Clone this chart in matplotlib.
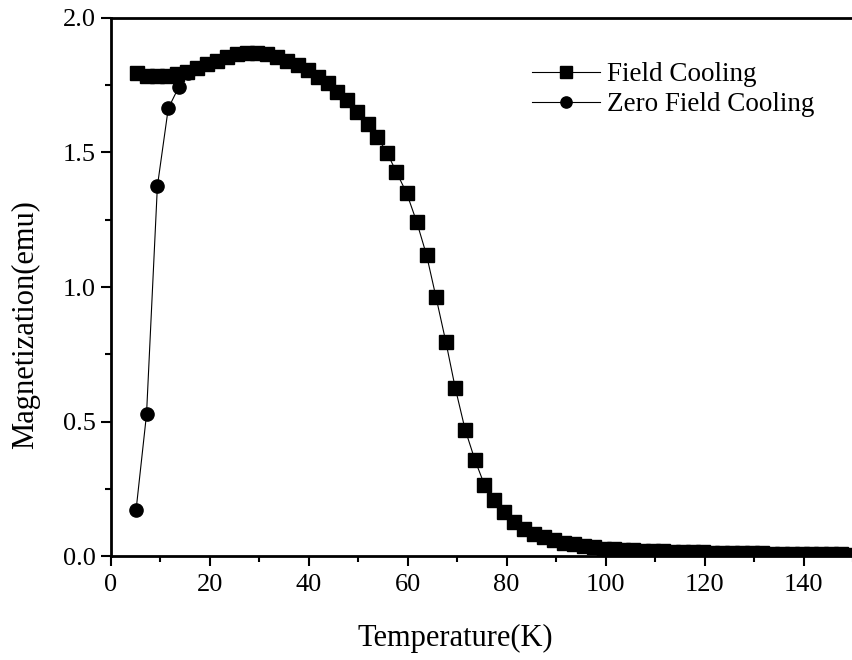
import numpy as np
import matplotlib
matplotlib.use("Agg")
import matplotlib.pyplot as plt
from matplotlib.ticker import MultipleLocator

plt.rcParams['font.family'] = ['Liberation Serif', 'DejaVu Serif']

# Field cooling (squares)
fc_temp = [5.2, 7.2, 9.3, 11.3, 13.4, 15.4, 17.4, 19.5, 21.5, 23.5, 25.5, 27.5,
           29.5, 31.5, 33.5, 35.5, 37.9, 39.9, 41.9, 43.9, 45.7, 47.7, 49.8, 52.0,
           53.8, 55.8, 57.7, 59.8, 61.8, 63.8, 65.7, 67.7, 69.6, 71.6, 73.6, 75.5,
           77.5, 79.5, 81.5, 83.5, 85.5, 87.5, 89.5, 91.5, 93.6, 95.6, 97.6, 99.6,
           101.6, 103.6, 105.6, 107.6, 109.6, 111.6, 113.6, 115.6, 117.6, 119.6,
           121.6, 123.6, 125.6, 127.6, 129.6, 131.6, 133.6, 135.6, 137.6, 139.6,
           141.6, 143.6, 145.6, 147.6, 149.6]
fc_mag = [1.795, 1.785, 1.785, 1.785, 1.790, 1.800, 1.815, 1.830, 1.840, 1.855,
          1.865, 1.870, 1.870, 1.865, 1.855, 1.840, 1.825, 1.805, 1.780, 1.757,
          1.726, 1.695, 1.652, 1.606, 1.559, 1.499, 1.428, 1.348, 1.243, 1.119,
          0.964, 0.797, 0.626, 0.471, 0.357, 0.266, 0.208, 0.165, 0.128, 0.103,
          0.084, 0.072, 0.060, 0.051, 0.045, 0.038, 0.033, 0.028, 0.026, 0.024,
          0.022, 0.021, 0.020, 0.019, 0.018, 0.017, 0.016, 0.015, 0.014, 0.013,
          0.013, 0.012, 0.011, 0.011, 0.010, 0.010, 0.009, 0.009, 0.008, 0.008,
          0.007, 0.007, 0.006]

# Zero field cooling (circles)
zfc_temp = [5.1, 7.2, 9.4, 11.6, 13.7, 15.6]
zfc_mag = [0.174, 0.527, 1.375, 1.664, 1.742, 1.795]

fig = plt.figure(figsize=(8.53, 6.6), dpi=100)
ax = fig.add_axes([0.130, 0.157, 0.870, 0.816])

ax.plot(zfc_temp, zfc_mag, color='black', lw=0.8, marker='o', ms=9.5,
        label='Zero Field Cooling', zorder=2)
ax.plot(fc_temp, fc_mag, color='black', lw=0.8, marker='s', ms=9.5,
        label='Field Cooling', zorder=3)

ax.set_xlim(0, 150)
ax.set_ylim(0, 2.0)
ax.xaxis.set_major_locator(MultipleLocator(20))
ax.xaxis.set_minor_locator(MultipleLocator(10))
ax.yaxis.set_major_locator(MultipleLocator(0.5))
ax.yaxis.set_minor_locator(MultipleLocator(0.25))
ax.yaxis.set_major_formatter(plt.FormatStrFormatter('%.1f'))

for s in ['left', 'bottom', 'top']:
    ax.spines[s].set_linewidth(2)
ax.spines['right'].set_visible(False)
ax.tick_params(which='major', direction='out', length=7, width=1.5,
               labelsize=19, top=False, right=False)
ax.tick_params(axis='x', which='major', pad=6)
ax.tick_params(axis='y', which='major', pad=4)
ax.tick_params(which='minor', direction='out', length=4, width=1.5,
               top=False, right=False)

ax.set_xlabel('Temperature(K)', fontsize=22)
ax.set_ylabel('Magnetization(emu)', fontsize=22)
ax.xaxis.set_label_coords(0.464, -0.125)
ax.yaxis.set_label_coords(-0.096, 0.43)

handles, labels = ax.get_legend_handles_labels()
leg = ax.legend(handles[::-1], labels[::-1], loc='upper left',
                bbox_to_anchor=(0.553, 0.938), frameon=False, fontsize=19.5,
                handlelength=2.5, handletextpad=0.26, labelspacing=0.2,
                markerscale=0.85, borderaxespad=0)

fig.savefig('out.png', dpi=100)
